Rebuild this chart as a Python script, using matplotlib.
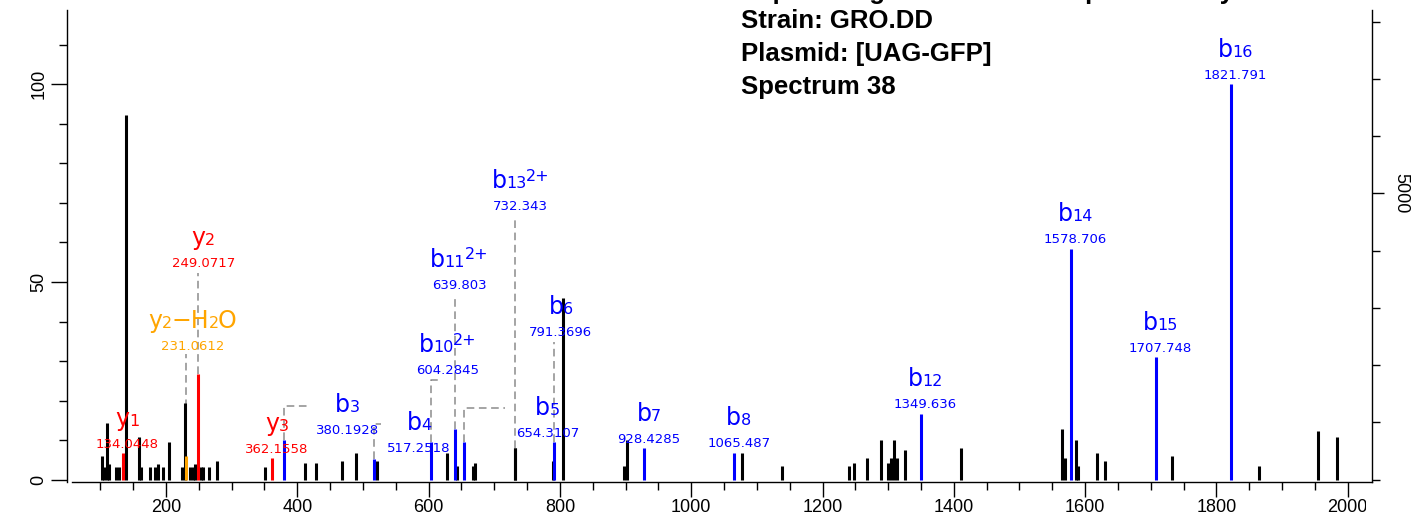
import matplotlib
matplotlib.use("Agg")
import matplotlib.pyplot as plt
from matplotlib.transforms import Bbox, TransformedBbox
from matplotlib.ticker import FixedLocator, NullFormatter
from matplotlib.font_manager import FontProperties

plt.rcParams['font.family'] = ['DejaVu Sans']

# ---------------- data ----------------
# unmatched (black) peaks: m/z and relative intensity (%)
other_mz = [102.5, 105.6, 110.1, 113.6, 123.8, 128.4, 139.1, 158.9, 162.4, 175.6,
            183.7, 187.8, 195.9, 204.1, 224.4, 228.5, 236.6, 240.6, 244.6, 252.9,
            256.8, 265.0, 277.2, 350.3, 411.7, 428.0, 468.5, 489.0, 521.4, 627.6,
            643.3, 667.2, 671.1, 732.343, 789.0, 805.2, 898.1, 902.7, 1077.4, 1138.3,
            1239.9, 1248.0, 1268.2, 1289.1, 1300.2, 1304.3, 1308.9, 1313.0, 1325.6, 1411.0,
            1564.7, 1568.9, 1585.7, 1589.6, 1618.1, 1630.3, 1731.9, 1865.3, 1955.2, 1983.2]
other_int = [6.0, 3.2, 14.2, 3.9, 3.2, 3.2, 92.3, 10.8, 3.2, 3.2,
             3.2, 4.0, 3.2, 9.5, 3.2, 19.5, 3.2, 3.2, 4.0, 3.2,
             3.2, 3.2, 4.7, 3.2, 4.1, 4.1, 4.8, 6.8, 4.8, 6.8,
             3.4, 3.4, 4.1, 8.0, 4.8, 45.9, 3.4, 10.0, 6.8, 3.4,
             3.4, 4.1, 5.4, 10.1, 4.1, 5.4, 10.1, 5.4, 7.4, 8.1,
             12.7, 5.4, 10.1, 3.4, 6.7, 4.7, 6.1, 3.4, 12.2, 10.8]

# matched fragment ions
ion_names = ['y1', 'y2-H2O', 'y2', 'y3', 'b3', 'b4', 'b10++', 'b11++', 'b13++',
             'b5', 'b6', 'b7', 'b8', 'b12', 'b14', 'b15', 'b16']
ion_mz_text = ['134.0448', '231.0612', '249.0717', '362.1558', '380.1928', '517.2518',
               '604.2845', '639.803', '732.343', '654.3107', '791.3696', '928.4285',
               '1065.487', '1349.636', '1578.706', '1707.748', '1821.791']
ion_int = [6.7, 6.0, 26.8, 5.4, 10.1, 5.3, 9.5, 12.7, 8.0,
           9.4, 9.4, 8.0, 6.8, 16.7, 58.4, 30.9, 100.0]
ion_type = ['y', 'yloss', 'y', 'y', 'b', 'b', 'b', 'b', 'b',
            'b', 'b', 'b', 'b', 'b', 'b', 'b', 'b']

title_lines = ['Peptide Tag Tandem Mass Spectrometry', 'Strain: GRO.DD',
               'Plasmid: [UAG-GFP]', 'Spectrum 38']

x_major = [200, 400, 600, 800, 1000, 1200, 1400, 1600, 1800, 2000]
left_major = [0, 50, 100]
right_major = [5000]

# ---------------- layout ----------------
colors = {'y': '#ff0000', 'yloss': '#ffa500', 'b': '#0000ff'}
peak_color_override = {'b13++': 'black'}
# repositioned labels: (label centre m/z, number-baseline height)
label_pos = {
    'y2-H2O': (240.4, 32.7), 'y2': (256.8, 53.7), 'b3': (476.5, 11.5),
    'b4': (585.4, 7.0), 'b10++': (628.8, 26.6), 'b11++': (646.3, 48.3),
    'b13++': (739.7, 68.1), 'b5': (781.1, 10.8), 'b6': (801.4, 36.3),
}
# leader lines: (elbow height, horizontal end m/z or None)
leaders = {
    'y2-H2O': (31.7, None), 'y2': (52.2, None), 'b3': (18.6, 418.3),
    'b4': (14.0, 527.0), 'b10++': (25.1, 618.4), 'b11++': (46.8, None),
    'b13++': (66.0, None), 'b5': (18.0, 716.4), 'b6': (34.8, None),
}

W, H = 1414, 524
fig = plt.figure(figsize=(W / 100, H / 100), dpi=100)
L, R, B, T = 67, 1372, 482, 10
ax = fig.add_axes([L / W, 1 - B / H, (R - L) / W, (B - T) / H])

xlim = (49.2, 2037.0)
ylim = (-0.6, 118.8)
ax.set_xlim(*xlim)
ax.set_ylim(*ylim)

# peaks
ax.vlines(other_mz, 0, other_int, colors='black', linewidth=2.2,
          capstyle='butt', zorder=3)
ion_mz = [float(s) for s in ion_mz_text]
for name, mz, inten, typ in zip(ion_names, ion_mz, ion_int, ion_type):
    c = peak_color_override.get(name, colors[typ])
    ax.vlines([mz], 0, [inten], colors=c, linewidth=2.2, capstyle='butt', zorder=4)

# leader lines
for name, mz, inten in zip(ion_names, ion_mz, ion_int):
    if name in leaders:
        eh, xend = leaders[name]
        xs = [mz, mz] + ([xend] if xend is not None else [])
        ys = [inten, eh] + ([eh] if xend is not None else [])
        ax.plot(xs, ys, color='#8c8c8c', linewidth=1.1, linestyle=(0, (5, 3)), zorder=2)

# ion labels built from parts: big letter, small baseline digits, raised charge
renderer = fig.canvas.get_renderer()
BIG, SMALL, NUM = 17, 11.5, 9.5
PT = 72 / 100.0  # points per pixel


def text_width_px(s, size):
    fp = FontProperties(family='DejaVu Sans', size=size)
    w, h, d = renderer.get_text_width_height_descent(s, fp, ismath=False)
    return w


def label_parts(name):
    if name == 'y2-H2O':
        return [('y', BIG, 0), ('2', SMALL, 0), ('\u2212H', BIG, 0),
                ('2', SMALL, 0), ('O', BIG, 0)]
    charged = name.endswith('++')
    core = name.rstrip('+')
    parts = [(core[0], BIG, 0), (core[1:], SMALL, 0)]
    if charged:
        parts.append(('2+', SMALL, 7.5))
    return parts


GAP = -0.5  # px between parts
for name, txt, mz, inten, typ in zip(ion_names, ion_mz_text, ion_mz, ion_int, ion_type):
    c = colors[typ]
    if name in label_pos:
        xy = label_pos[name]
        off = (0.0, 0.0)
    else:
        xy = (mz, inten)
        off = (4.5, 5.5)  # pixels
    ax.annotate(txt, xy=xy, xytext=(off[0] * PT, off[1] * PT), textcoords='offset points',
                ha='center', va='baseline', fontsize=NUM, color=c, zorder=5)
    parts = label_parts(name)
    widths = [text_width_px(s, sz) for s, sz, _ in parts]
    total = sum(widths) + GAP * (len(parts) - 1)
    x0 = off[0] - total / 2.0
    base = off[1] + 22.0
    for (s, sz, rise), w in zip(parts, widths):
        ax.annotate(s, xy=xy, xytext=(x0 * PT, (base + rise) * PT),
                    textcoords='offset points', ha='left', va='baseline',
                    fontsize=sz, color=c, zorder=5)
        x0 += w + GAP

# axes styling
tick_font = dict(family=['Liberation Sans', 'DejaVu Sans'], size=13)
ax.spines['top'].set_visible(False)
ax.spines['right'].set_visible(False)
for s in ('left', 'bottom'):
    ax.spines[s].set_linewidth(1.0)
ax.spines['bottom'].set_bounds(56.8, xlim[1])

ax.xaxis.set_major_locator(FixedLocator(x_major))
minors_x = [v for v in range(100, 2001, 50) if v not in x_major]
ax.xaxis.set_minor_locator(FixedLocator(minors_x))
ax.set_xticklabels([str(v) for v in x_major], fontdict=tick_font)
ax.tick_params(axis='x', which='major', length=10.8, width=1.0, pad=1.5)
ax.tick_params(axis='x', which='minor', length=5.8, width=1.0)

ax.yaxis.set_major_locator(FixedLocator(left_major))
ax.yaxis.set_minor_locator(FixedLocator([v for v in range(0, 111, 10) if v not in left_major]))
ax.set_yticklabels([str(v) for v in left_major], fontdict=tick_font,
                   rotation=90, va='center')
ax.tick_params(axis='y', which='major', length=11.5, width=1.0, pad=2.5)
ax.tick_params(axis='y', which='minor', length=5.8, width=1.0)

# clip last x tick label like the reference
clipbox = TransformedBbox(Bbox([[0, 0], [1366 / W, 1]]), fig.transFigure)
for lbl in ax.get_xticklabels():
    lbl.set_clip_box(clipbox)
    lbl.set_clip_on(True)

# right intensity axis
k = 69.04
ax2 = ax.twinx()
ax2.set_ylim(ylim[0] * k, ylim[1] * k)
for s in ('top', 'left', 'bottom'):
    ax2.spines[s].set_visible(False)
ax2.spines['right'].set_linewidth(1.0)
ax2.yaxis.set_major_locator(FixedLocator(right_major))
ax2.yaxis.set_minor_locator(FixedLocator([v for v in range(0, 8001, 1000) if v not in right_major]))
ax2.set_yticklabels([str(v) for v in right_major], fontdict=tick_font,
                    rotation=-90, va='center')
ax2.yaxis.set_minor_formatter(NullFormatter())
ax2.tick_params(axis='y', which='major', length=8.5, width=1.0, pad=6)
ax2.tick_params(axis='y', which='minor', length=5.8, width=1.0)

# title block (top line partially outside the canvas, as in the reference)
bl = [-1, 28, 61, 94]
for line, yb in zip(title_lines, bl):
    fig.text(741 / W, 1 - yb / H, line, ha='left', va='baseline',
             fontsize=18.5, fontweight='bold',
             family=['Liberation Sans', 'DejaVu Sans'], color='black')

fig.savefig('out.png', dpi=100)
